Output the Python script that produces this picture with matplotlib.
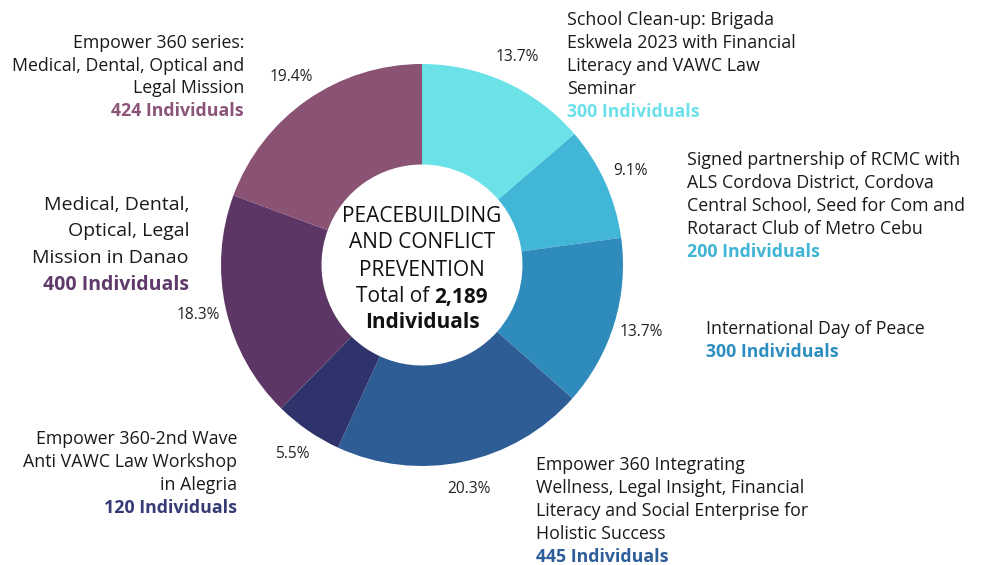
import matplotlib
matplotlib.use("Agg")
from matplotlib import pyplot as plt

plt.rcParams['font.family'] = ['Open Sans', 'DejaVu Sans']

## Data (clockwise from the top)
counts = [300, 200, 300, 445, 120, 400, 424]
pcts = ['13.7%', '9.1%', '13.7%', '20.3%', '5.5%', '18.3%', '19.4%']
colors = ['#6AE2E8', '#42B6D6', '#2E8BBC', '#2E5D96', '#2F336B', '#5C3765', '#8A5273']
label_colors = ['#6BE0EA', '#3FB4D4', '#2E8EC0', '#2D5E9A', '#363A75', '#5F3A6A', '#8B5577']
descs = [
    ['School Clean-up: Brigada', 'Eskwela 2023 with Financial', 'Literacy and VAWC Law', 'Seminar'],
    ['Signed partnership of RCMC with', 'ALS Cordova District, Cordova',
     'Central School, Seed for Com and', 'Rotaract Club of Metro Cebu'],
    ['International Day of Peace'],
    ['Empower 360 Integrating', 'Wellness, Legal Insight, Financial',
     'Literacy and Social Enterprise for', 'Holistic Success'],
    ['Empower 360-2nd Wave', 'Anti VAWC Law Workshop', 'in Alegria'],
    ['Medical, Dental,', 'Optical, Legal', 'Mission in Danao'],
    ['Empower 360 series:', 'Medical, Dental, Optical and', 'Legal Mission'],
]
center_lines = ['PEACEBUILDING', 'AND CONFLICT', 'PREVENTION']
total = '{:,}'.format(sum(counts))

W, H = 985, 565
fig = plt.figure(figsize=(W / 100, H / 100), dpi=100)
cx, cy, R = 422, 265, 201
ax = fig.add_axes([(cx - R) / W, 1 - (cy + R) / H, 2 * R / W, 2 * R / H])
ax.pie(counts, colors=colors, startangle=90, counterclock=False,
       labels=pcts, labeldistance=1.14,
       textprops=dict(fontsize=11.2, color='#222222', ha='center', va='center'),
       wedgeprops=dict(width=0.5, edgecolor='none'))
ax.set_xlim(-1, 1); ax.set_ylim(-1, 1)
ax.set_aspect('equal')
ax.axis('off')

def px(x, y):
    return x / W, 1 - y / H

## label blocks: (x, first line y, line step, align, font size)
fs = 12.8
blocks = [
    (567, 20, 23, 'left', fs),
    (687, 160, 23, 'left', fs),
    (706, 329, 23, 'left', fs),
    (536, 465, 23, 'left', fs),
    (237, 439, 23, 'right', fs),
    (189, 205, 26.5, 'right', 14),
    (244, 43, 22.7, 'right', fs),
]
for (x, y0, dy, ha, size), lines, n, c in zip(blocks, descs, counts, label_colors):
    for i, line in enumerate(lines):
        fig.text(*px(x, y0 + i * dy), line, ha=ha, va='center', fontsize=size, color='#1a1a1a')
    fig.text(*px(x, y0 + len(lines) * dy), '%d Individuals' % n, ha=ha, va='center',
             fontsize=size, color=c, fontweight='bold')

## centre text
cfs = 15
for i, line in enumerate(center_lines):
    fig.text(*px(cx, 216 + i * 27), line, ha='center', va='center', fontsize=cfs, color='#111111')
fig.text(*px(429, 297), 'Total of', ha='right', va='center', fontsize=cfs, color='#111111')
fig.text(*px(434, 297), total, ha='left', va='center', fontsize=cfs, color='#111111', fontweight='bold')
fig.text(*px(cx, 323), 'Individuals', ha='center', va='center', fontsize=cfs, color='#111111', fontweight='bold')

fig.savefig('out.png', dpi=100, facecolor='white')
